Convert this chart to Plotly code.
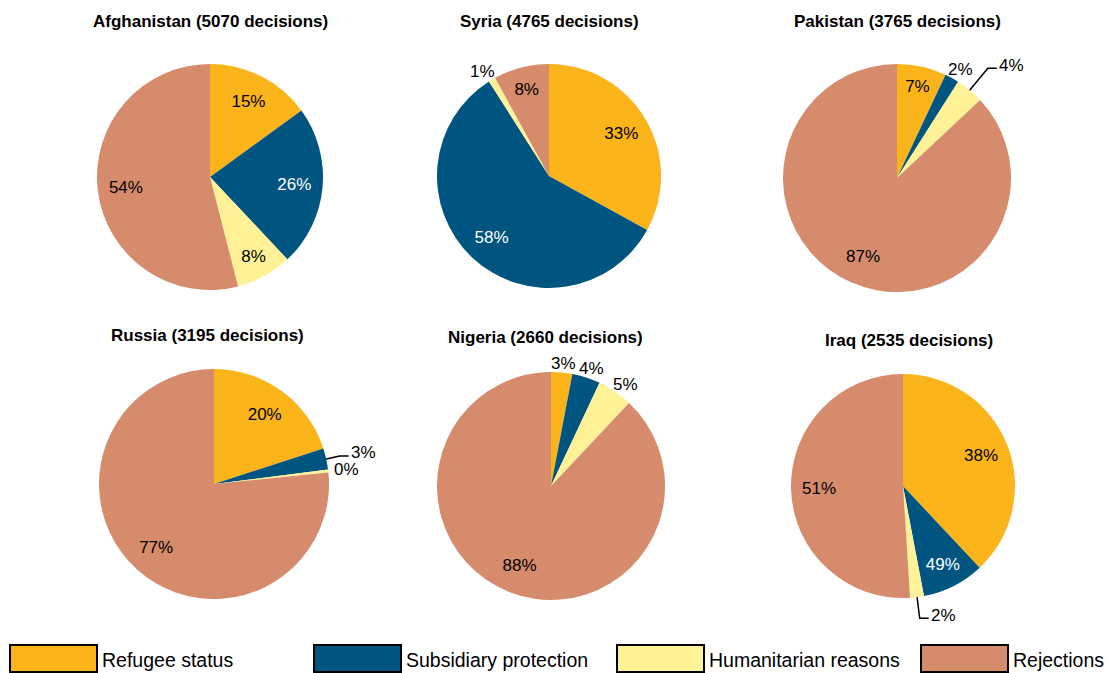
import math
import plotly.graph_objects as go

categories = ["Refugee status", "Subsidiary protection", "Humanitarian reasons", "Rejections"]
colors = ["#FBB41A", "#005480", "#FFF296", "#D58B6C"]

countries = ["Afghanistan", "Syria", "Pakistan", "Russia", "Nigeria", "Iraq"]
decisions = [5070, 4765, 3765, 3195, 2660, 2535]

# slice shares as drawn
afghanistan = [15, 23, 8, 54]
syria = [33, 58, 1, 8]
pakistan = [7, 2, 4, 87]
russia = [20, 3, 0.4, 76.6]
nigeria = [3, 4, 5, 88]
iraq = [38, 9, 2, 51]

# printed labels
afghanistan_lbl = ["15%", "26%", "8%", "54%"]
syria_lbl = ["33%", "58%", "1%", "8%"]
pakistan_lbl = ["7%", "2%", "4%", "87%"]
russia_lbl = ["20%", "3%", "0%", "77%"]
nigeria_lbl = ["3%", "4%", "5%", "88%"]
iraq_lbl = ["38%", "49%", "2%", "51%"]

shares = [afghanistan, syria, pakistan, russia, nigeria, iraq]
labels_txt = [afghanistan_lbl, syria_lbl, pakistan_lbl, russia_lbl, nigeria_lbl, iraq_lbl]

# label placement style: in = inside, out = just outside, lead = outside with leader line
placement = [
    ["in", "in", "in", "in"],
    ["in", "in", "out", "in"],
    ["in", "out", "lead", "in"],
    ["in", "lead", "out", "in"],
    ["out", "out", "out", "in"],
    ["in", "in", "lead", "in"],
]
leader_len = {2: 1.25, 3: 1.12, 5: 1.19}

W, H = 1108, 673
# pie centers and radii (pixels)
geom = [(210, 177, 113), (549, 176, 112), (897, 178, 114),
        (214, 484, 115), (551, 486, 114), (903, 486, 112)]
title_pos = [(211, 22), (549, 22), (897, 22), (207, 335), (545, 337), (909, 340)]

FONT = "Arial, Liberation Sans, sans-serif"
FS = 17


def px2paper(x, y):
    return x / W, 1 - y / H


def text_w(s):
    return sum(15.1 if ch == "%" else 9.45 for ch in s)


fig = go.Figure()
for i, c in enumerate(countries):
    cx, cy, r = geom[i]
    dom = dict(x=[(cx - r) / W, (cx + r) / W], y=[1 - (cy + r) / H, 1 - (cy - r) / H])
    vals = shares[i]
    # coloured pie
    fig.add_trace(go.Pie(
        labels=categories, values=vals, textinfo="none",
        sort=False, direction="clockwise", rotation=0,
        marker=dict(colors=colors, line=dict(width=0)),
        domain=dom, showlegend=False, hoverinfo="label",
    ))
    # inside labels (ring keeps them toward the rim)
    inside_txt = [t if p == "in" else "" for t, p in zip(labels_txt[i], placement[i])]
    txtcol = ["black", "white", "black", "black"]
    fig.add_trace(go.Pie(
        labels=categories, values=vals, text=inside_txt,
        textinfo="text", textposition="inside",
        insidetextorientation="horizontal", hole=0.5,
        sort=False, direction="clockwise", rotation=0,
        marker=dict(colors=["rgba(0,0,0,0)"] * 4, line=dict(width=0)),
        textfont=dict(family=FONT, size=FS, color=txtcol),
        domain=dom, showlegend=False, hoverinfo="skip",
    ))
    # outside labels from slice mid-angles
    total = sum(vals)
    cum = 0.0
    for j, v in enumerate(vals):
        mid = (cum + v / 2) / total * 2 * math.pi
        cum += v
        p = placement[i][j]
        s, co = math.sin(mid), math.cos(mid)
        if p == "out":
            d = 1.02 * r
            x, y = px2paper(cx + d * s, cy - d * co)
            fig.add_annotation(x=x, y=y, xref="paper", yref="paper", text=labels_txt[i][j],
                               showarrow=False, xanchor="center", yanchor="middle",
                               xshift=s * (text_w(labels_txt[i][j]) / 2 + 4), yshift=co * 7,
                               font=dict(family=FONT, size=FS, color="black"))
        elif p == "lead":
            e = leader_len[i]
            x0p, y0p = cx + r * s, cy - r * co
            x1p, y1p = cx + e * r * s, cy - e * r * co
            x2p = x1p + 9
            path = (f"M {x0p / W},{1 - y0p / H} L {x1p / W},{1 - y1p / H} "
                    f"L {x2p / W},{1 - y1p / H}")
            fig.add_shape(type="path", xref="paper", yref="paper", path=path,
                          line=dict(color="black", width=1.5))
            x, y = px2paper(x2p, y1p - 3)
            fig.add_annotation(x=x, y=y, xref="paper", yref="paper", text=labels_txt[i][j],
                               showarrow=False, xanchor="left", yanchor="middle",
                               font=dict(family=FONT, size=FS, color="black"))
    tx, ty = title_pos[i]
    fig.add_annotation(x=tx / W, y=1 - ty / H, xref="paper", yref="paper",
                       text=f"<b>{c} ({decisions[i]} decisions)</b>", showarrow=False,
                       font=dict(family=FONT, size=17, color="black"),
                       xanchor="center", yanchor="middle")

# custom legend
legend_x = [10, 314, 617, 921]
for k, cat in enumerate(categories):
    x0 = legend_x[k]
    fig.add_shape(type="rect", xref="paper", yref="paper",
                  x0=x0 / W, x1=(x0 + 87) / W, y0=1 - 672 / H, y1=1 - 645 / H,
                  fillcolor=colors[k], line=dict(color="black", width=2))
    fig.add_annotation(x=(x0 + 90) / W, y=1 - 660 / H, xref="paper", yref="paper",
                       text=cat, showarrow=False, xanchor="left", yanchor="middle",
                       font=dict(family=FONT, size=19.5, color="black"))

fig.update_layout(
    width=W, height=H,
    margin=dict(l=0, r=0, t=0, b=0),
    paper_bgcolor="white", plot_bgcolor="white",
    uniformtext=dict(minsize=FS, mode="show"),
    font=dict(family=FONT),
)

fig.write_html("out.html", config={"displayModeBar": False},
               post_script="document.body.style.margin='0';document.body.style.padding='0';"
                           "document.body.style.overflow='hidden';")
